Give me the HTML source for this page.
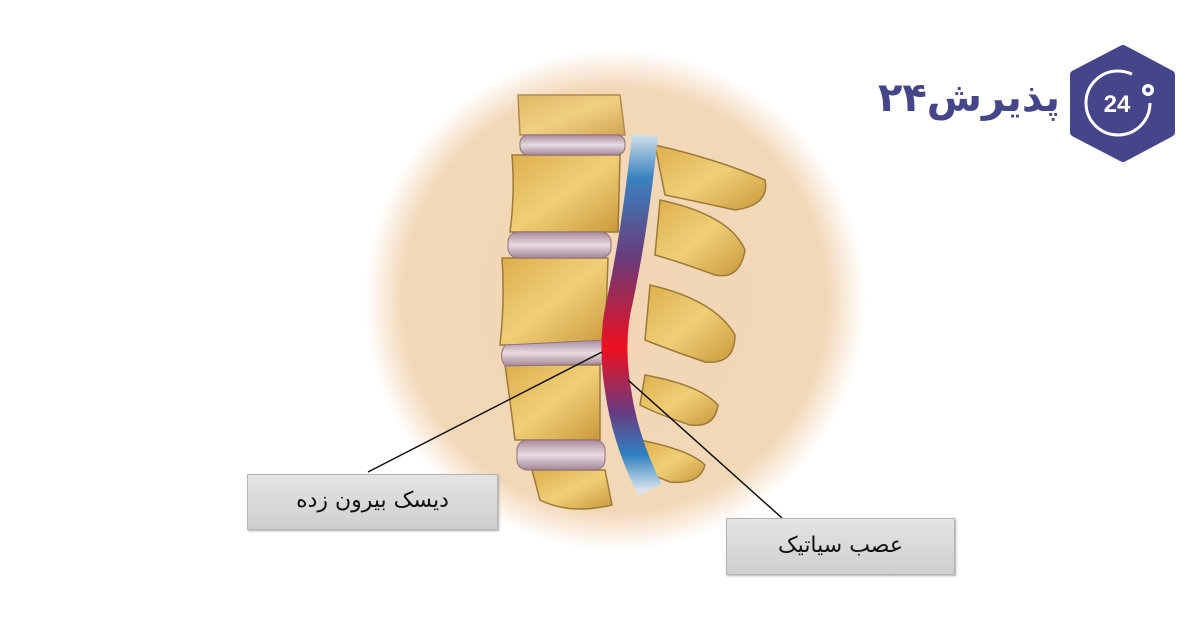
<!DOCTYPE html>
<html><head><meta charset="utf-8"><style>
html,body{margin:0;padding:0;background:#fff;width:1200px;height:628px;overflow:hidden}
.box{position:absolute;background:linear-gradient(#e4e4e4,#cfcfcf);border:1px solid #b5b5b5;box-shadow:1px 1px 2px #aaa;font-family:"DejaVu Sans",sans-serif;color:#111;font-size:22px;text-align:center;direction:rtl}
.logo{position:absolute;right:140px;top:70px;font-family:"DejaVu Sans",sans-serif;font-weight:bold;font-size:40px;color:#45458a;direction:rtl;line-height:56px;white-space:nowrap}
</style></head><body>
<svg width="1200" height="628" style="position:absolute;left:0;top:0">
<defs>
<radialGradient id="bg" cx="615" cy="300" r="250" gradientUnits="userSpaceOnUse">
<stop offset="0" stop-color="#f2d6b4"/><stop offset="0.85" stop-color="#f3d8b8"/><stop offset="1" stop-color="#fff" stop-opacity="1"/></radialGradient>
<linearGradient id="nerve" x1="0" y1="135" x2="0" y2="490" gradientUnits="userSpaceOnUse">
<stop offset="0" stop-color="#cfe0ea"/><stop offset="0.12" stop-color="#3a82c0"/><stop offset="0.35" stop-color="#6a3a78"/><stop offset="0.6" stop-color="#ee1020"/><stop offset="0.78" stop-color="#6a3a80"/><stop offset="0.9" stop-color="#2f80c0"/><stop offset="1" stop-color="#d8e4ec"/></linearGradient>
<linearGradient id="bone" x1="0" y1="0" x2="1" y2="1"><stop offset="0" stop-color="#dcae4c"/><stop offset="0.5" stop-color="#f0cf78"/><stop offset="1" stop-color="#c9993a"/></linearGradient>
<linearGradient id="disc" x1="0" y1="0" x2="0" y2="1"><stop offset="0" stop-color="#a88a9a"/><stop offset="0.5" stop-color="#e8dce0"/><stop offset="1" stop-color="#a48696"/></linearGradient>
</defs>
<circle cx="615" cy="300" r="255" fill="url(#bg)"/>
<g stroke="#9b7a3a" stroke-width="1.5" fill="url(#bone)">
<path d="M655 145 Q720 160 765 180 Q770 205 735 210 Q690 200 665 195Z"/>
<path d="M660 200 Q730 215 745 250 Q740 280 715 275 Q680 262 655 255Z"/>
<path d="M650 285 Q715 300 735 335 Q735 365 705 362 Q670 350 645 340Z"/>
<path d="M645 375 Q700 385 718 405 Q715 428 690 425 Q660 415 640 405Z"/>
<path d="M640 440 Q690 450 705 465 Q700 485 670 482 L640 470Z"/>
<path d="M518 95 L620 95 L625 135 L520 135Z" opacity="0.8"/>
<path d="M512 155 L620 155 L618 232 L510 232 Q515 195 512 155Z"/>
<path d="M502 258 L608 258 L605 345 L500 345 Q505 300 502 258Z"/>
<path d="M505 365 L600 365 L600 440 L515 440 Q510 400 505 365Z"/>
<path d="M532 470 L605 470 L612 505 Q570 515 540 500Z"/>
</g>
<g stroke="#8f7080" stroke-width="1" fill="url(#disc)">
<rect x="520" y="135" width="105" height="20" rx="8"/>
<rect x="508" y="232" width="103" height="26" rx="10"/>
<path d="M505 345 L605 340 Q618 340 617 352 Q616 366 603 364 L505 366 Q498 356 505 345Z"/>
<rect x="517" y="440" width="88" height="30" rx="10"/>
</g>
<path d="M645 135 Q635 230 620 300 Q610 340 618 390 Q625 440 650 490" stroke="url(#nerve)" stroke-width="26" fill="none"/>
<line x1="602" y1="352" x2="368" y2="472" stroke="#111" stroke-width="1.5"/>
<line x1="628" y1="380" x2="782" y2="518" stroke="#111" stroke-width="1.5"/>
<polygon points="1123,50 1170,75 1170,132 1123,157 1075,132 1075,75" fill="#45458a" stroke="#45458a" stroke-width="10" stroke-linejoin="round"/>
<circle cx="1118" cy="103" r="32" fill="none" stroke="#fff" stroke-width="3" stroke-dasharray="165 36"/>
<circle cx="1148" cy="90" r="6" fill="#fff"/><circle cx="1148" cy="90" r="2.5" fill="#45458a"/>
<text x="1117" y="112" font-family="Liberation Sans" font-weight="bold" font-size="24" fill="#fff" text-anchor="middle">24</text>
</svg>
<div class="logo">پذیرش۲۴</div>
<div class="box" style="left:247px;top:474px;width:249px;height:54px;line-height:52px">دیسک بیرون زده</div>
<div class="box" style="left:726px;top:518px;width:227px;height:55px;line-height:53px">عصب سیاتیک</div>
</body></html>
